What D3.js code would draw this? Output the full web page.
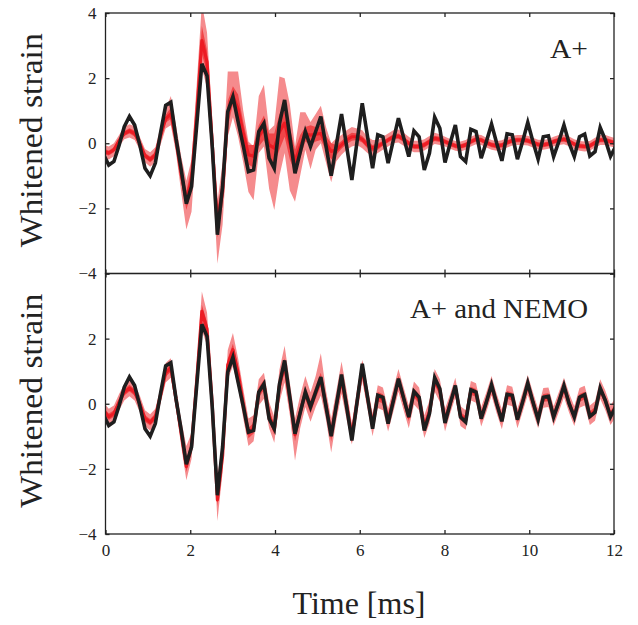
<!DOCTYPE html>
<html><head><meta charset="utf-8">
<script src="https://cdn.jsdelivr.net/npm/d3@7"></script>
<style>body{margin:0;background:#fff}svg{display:block}</style>
</head><body><div id="chart"></div>
<script>
// sample times (ms)
const times = [-0.045,0.077,0.199,0.321,0.443,0.565,0.687,0.809,0.932,1.054,1.176,1.298,1.420,1.542,1.664,1.786,1.908,2.030,2.152,2.274,2.396,2.518,2.641,2.763,2.885,3.007,3.129,3.251,3.373,3.495,3.617,3.739,3.861,3.983,4.105,4.227,4.350,4.472,4.594,4.716,4.838,4.960,5.082,5.204,5.326,5.448,5.570,5.692,5.814,5.936,6.059,6.181,6.303,6.425,6.547,6.669,6.791,6.913,7.035,7.157,7.279,7.401,7.523,7.645,7.768,7.890,8.012,8.134,8.256,8.378,8.500,8.622,8.744,8.866,8.988,9.110,9.232,9.354,9.476,9.599,9.721,9.843,9.965,10.087,10.209,10.331,10.453,10.575,10.697,10.819,10.941,11.063,11.186,11.308,11.430,11.552,11.674,11.796,11.918,12.040];

// injected whitened signal (black)
const injected = [-0.35,-0.67,-0.56,-0.06,0.51,0.82,0.56,-0.05,-0.77,-1.00,-0.61,0.31,1.16,1.26,0.15,-0.80,-1.86,-1.33,0.55,2.44,2.07,-0.08,-2.81,-1.33,0.97,1.43,0.66,-0.08,-0.87,-0.82,0.36,0.61,-0.46,-0.77,0.60,1.33,0.20,-0.92,-0.28,0.36,-0.10,0.36,0.82,-0.09,-1.00,-0.05,0.90,-0.11,-1.13,0.05,1.23,0.23,-0.77,0.26,0.20,-0.61,0.08,0.77,0.18,-0.41,0.38,0.20,-0.82,-0.30,0.80,0.46,-0.59,0.00,0.56,-0.41,-0.56,0.43,0.36,-0.46,0.05,0.59,0.00,-0.54,0.29,0.26,-0.49,0.05,0.64,0.05,-0.49,0.20,0.23,-0.41,0.05,0.56,0.00,-0.41,0.20,0.28,-0.39,-0.26,0.48,0.10,-0.40,-0.10];

// A+ reconstruction
const aMedian = [-0.25,-0.30,-0.20,0.08,0.30,0.38,0.30,0.00,-0.38,-0.50,-0.36,0.22,0.75,0.90,0.10,-0.95,-1.75,-1.10,0.90,3.15,2.50,0.00,-2.40,-1.50,0.90,1.45,1.05,0.30,-0.35,-0.40,0.20,0.45,-0.05,-0.15,0.35,0.62,0.00,-0.55,-0.10,0.28,0.25,0.28,0.30,0.00,-0.25,-0.20,-0.05,0.10,0.20,0.20,0.12,-0.05,-0.15,-0.10,0.00,0.10,0.20,0.22,0.12,0.00,-0.10,-0.10,-0.05,0.05,0.15,0.12,0.05,-0.02,-0.08,-0.10,-0.05,0.05,0.12,0.10,0.02,-0.05,-0.08,-0.06,0.02,0.08,0.10,0.10,0.08,0.02,-0.04,-0.05,-0.02,0.05,0.10,0.12,0.06,-0.03,-0.08,-0.10,-0.08,0.02,0.10,0.10,0.05,0.00];
const aLo90 = [-0.45,-0.50,-0.40,-0.10,0.12,0.18,0.10,-0.20,-0.58,-0.72,-0.58,-0.05,0.45,0.55,-0.30,-1.50,-2.65,-2.10,0.20,2.30,1.70,-0.80,-3.70,-2.50,0.20,0.80,0.20,-0.60,-1.50,-1.75,-0.30,-0.10,-1.40,-2.05,-1.00,-0.30,-1.45,-1.80,-1.00,-0.20,-0.80,-0.20,0.00,-0.60,-1.20,-0.55,-0.35,-0.20,-0.10,-0.05,-0.15,-0.30,-0.40,-0.30,-0.20,-0.10,0.00,0.02,-0.08,-0.20,-0.28,-0.28,-0.22,-0.12,-0.02,-0.05,-0.10,-0.17,-0.23,-0.25,-0.20,-0.10,-0.03,-0.05,-0.13,-0.20,-0.23,-0.21,-0.13,-0.07,-0.05,-0.05,-0.07,-0.13,-0.19,-0.20,-0.17,-0.10,-0.05,-0.03,-0.09,-0.18,-0.23,-0.25,-0.23,-0.13,-0.05,-0.05,-0.10,-0.15];
const aHi90 = [-0.05,-0.10,0.00,0.25,0.50,0.58,0.52,0.20,-0.18,-0.28,-0.12,0.50,1.05,1.45,0.55,-0.40,-1.15,-0.50,1.80,4.30,3.40,0.80,-1.80,-0.60,2.20,2.20,2.20,1.00,0.05,-0.10,1.45,1.80,0.40,0.55,2.05,2.00,1.20,-0.10,0.95,0.95,0.65,0.90,1.15,0.50,0.00,0.15,0.25,0.40,0.50,0.45,0.40,0.20,0.10,0.10,0.20,0.30,0.40,0.42,0.32,0.20,0.08,0.08,0.12,0.22,0.32,0.28,0.20,0.13,0.07,0.05,0.10,0.20,0.27,0.25,0.17,0.10,0.07,0.09,0.17,0.23,0.25,0.25,0.23,0.17,0.11,0.10,0.13,0.20,0.25,0.27,0.21,0.12,0.07,0.05,0.07,0.17,0.25,0.25,0.20,0.15];
const aLo50 = [-0.33,-0.38,-0.28,0.00,0.22,0.30,0.21,-0.08,-0.46,-0.59,-0.45,0.11,0.63,0.75,-0.07,-1.17,-2.05,-1.45,0.55,2.75,2.15,-0.32,-2.90,-1.90,0.50,1.20,0.65,-0.05,-0.65,-0.75,-0.10,0.10,-0.40,-0.65,-0.20,0.20,-0.50,-0.90,-0.45,0.05,-0.05,0.05,0.10,-0.22,-0.50,-0.35,-0.17,-0.02,0.08,0.10,0.02,-0.15,-0.25,-0.20,-0.08,0.02,0.12,0.14,0.04,-0.08,-0.18,-0.18,-0.13,-0.03,0.07,0.04,-0.02,-0.09,-0.15,-0.17,-0.12,-0.02,0.05,0.03,-0.05,-0.12,-0.15,-0.13,-0.05,0.01,0.03,0.03,0.01,-0.05,-0.11,-0.12,-0.09,-0.02,0.03,0.05,-0.01,-0.10,-0.15,-0.17,-0.15,-0.05,0.03,0.03,-0.02,-0.07];
const aHi50 = [-0.17,-0.22,-0.12,0.16,0.38,0.46,0.39,0.08,-0.30,-0.41,-0.27,0.33,0.87,1.10,0.27,-0.73,-1.45,-0.75,1.25,3.60,2.85,0.32,-2.00,-1.10,1.30,1.75,1.50,0.65,-0.05,-0.05,0.55,0.85,0.30,0.30,0.90,1.05,0.50,-0.20,0.25,0.50,0.55,0.50,0.55,0.22,0.00,-0.05,0.07,0.22,0.32,0.30,0.22,0.05,-0.05,0.00,0.08,0.18,0.28,0.30,0.20,0.08,-0.02,-0.02,0.03,0.13,0.23,0.20,0.12,0.05,-0.01,-0.03,0.02,0.12,0.19,0.17,0.09,0.02,-0.01,0.01,0.09,0.15,0.17,0.17,0.15,0.09,0.03,0.02,0.05,0.12,0.17,0.19,0.13,0.04,-0.01,-0.03,-0.01,0.09,0.17,0.17,0.12,0.07];

// A+ and NEMO reconstruction
const nMedian = [-0.22,-0.40,-0.30,0.05,0.35,0.48,0.35,0.00,-0.45,-0.57,-0.40,0.25,0.95,1.10,0.15,-0.90,-1.93,-1.30,0.70,2.84,2.30,0.00,-2.95,-1.60,1.20,1.66,0.95,0.00,-0.90,-0.75,0.35,0.58,-0.35,-0.80,0.55,1.20,0.15,-0.95,-0.25,0.33,-0.10,0.35,0.75,-0.05,-0.95,-0.05,0.75,-0.05,-1.00,0.05,1.10,0.20,-0.65,0.22,0.15,-0.50,0.10,0.72,0.15,-0.40,0.33,0.15,-0.70,-0.25,0.72,0.40,-0.50,0.00,0.50,-0.38,-0.50,0.40,0.33,-0.40,0.05,0.55,0.00,-0.48,0.27,0.22,-0.45,0.05,0.58,0.05,-0.45,0.18,0.20,-0.38,0.05,0.50,0.02,-0.38,0.18,0.25,-0.35,-0.22,0.45,0.10,-0.35,-0.10];
const nLo90 = [-0.47,-0.65,-0.55,-0.20,0.10,0.23,0.10,-0.25,-0.70,-0.82,-0.65,0.00,0.65,0.80,-0.15,-1.30,-2.35,-1.70,0.20,2.25,1.80,-0.50,-3.60,-2.10,0.75,1.15,0.50,-0.45,-1.30,-1.15,-0.05,0.15,-0.75,-1.20,0.05,0.65,-0.35,-1.75,-0.75,-0.10,-0.55,-0.10,0.25,-0.50,-1.50,-0.50,0.30,-0.50,-1.25,-0.35,0.70,-0.15,-1.00,-0.13,-0.20,-0.85,-0.25,0.37,-0.20,-0.75,-0.02,-0.20,-1.05,-0.60,0.37,0.05,-0.85,-0.30,0.20,-0.68,-0.80,0.10,0.03,-0.70,-0.25,0.25,-0.30,-0.78,-0.03,-0.08,-0.75,-0.25,0.28,-0.25,-0.75,-0.12,-0.10,-0.68,-0.25,0.20,-0.28,-0.68,-0.12,-0.05,-0.65,-0.52,0.15,-0.20,-0.65,-0.40];
const nHi90 = [0.03,-0.15,-0.05,0.30,0.60,0.73,0.60,0.25,-0.20,-0.32,-0.15,0.50,1.25,1.40,0.45,-0.50,-1.30,-0.90,1.20,3.45,2.80,0.50,-2.25,-1.10,1.65,2.17,1.40,0.45,-0.45,-0.35,0.75,0.95,0.05,-0.40,1.05,1.78,0.65,-0.45,0.25,0.85,0.35,0.85,1.55,0.40,-0.45,0.40,1.30,0.40,-0.60,0.45,1.35,0.55,-0.30,0.57,0.50,-0.15,0.45,1.07,0.50,-0.05,0.68,0.50,-0.35,0.10,1.07,0.75,-0.15,0.30,0.80,-0.08,-0.20,0.70,0.63,-0.10,0.35,0.85,0.30,-0.18,0.57,0.52,-0.15,0.35,0.88,0.35,-0.15,0.48,0.50,-0.08,0.35,0.80,0.32,-0.08,0.48,0.55,-0.05,0.08,0.75,0.40,-0.05,0.20];
const nLo50 = [-0.32,-0.50,-0.40,-0.05,0.25,0.38,0.25,-0.10,-0.55,-0.67,-0.50,0.15,0.83,0.98,0.03,-1.06,-2.09,-1.46,0.50,2.64,2.10,-0.20,-3.15,-1.80,1.02,1.48,0.77,-0.18,-1.06,-0.91,0.19,0.42,-0.51,-0.96,0.35,1.00,-0.05,-1.15,-0.45,0.13,-0.30,0.15,0.55,-0.25,-1.15,-0.25,0.55,-0.25,-1.20,-0.15,0.90,0.06,-0.79,0.08,0.01,-0.64,-0.04,0.58,0.01,-0.54,0.19,0.01,-0.84,-0.39,0.58,0.26,-0.64,-0.12,0.38,-0.50,-0.62,0.28,0.21,-0.52,-0.07,0.43,-0.12,-0.60,0.15,0.10,-0.57,-0.07,0.46,-0.07,-0.57,0.06,0.08,-0.50,-0.07,0.38,-0.10,-0.50,0.06,0.13,-0.47,-0.34,0.33,-0.02,-0.47,-0.22];
const nHi50 = [-0.12,-0.30,-0.20,0.15,0.45,0.58,0.45,0.10,-0.35,-0.47,-0.30,0.35,1.07,1.22,0.27,-0.74,-1.77,-1.14,0.90,3.04,2.50,0.20,-2.75,-1.40,1.38,1.84,1.13,0.18,-0.74,-0.59,0.51,0.74,-0.19,-0.64,0.75,1.40,0.35,-0.75,-0.05,0.53,0.10,0.55,0.95,0.15,-0.75,0.15,0.95,0.15,-0.80,0.25,1.30,0.34,-0.51,0.36,0.29,-0.36,0.24,0.86,0.29,-0.26,0.47,0.29,-0.56,-0.11,0.86,0.54,-0.36,0.12,0.62,-0.26,-0.38,0.52,0.45,-0.28,0.17,0.67,0.12,-0.36,0.39,0.34,-0.33,0.17,0.70,0.17,-0.33,0.30,0.32,-0.26,0.17,0.62,0.14,-0.26,0.30,0.37,-0.23,-0.10,0.57,0.22,-0.23,0.02];

const xTicks = [0,2,4,6,8,10,12];
const yTicks = [-4,-2,0,2,4];
const panels = [
  {label:"A+", median:aMedian, lo90:aLo90, hi90:aHi90, lo50:aLo50, hi50:aHi50, yLabels:[-4,-2,0,2,4]},
  {label:"A+ and NEMO", median:nMedian, lo90:nLo90, hi90:nHi90, lo50:nLo50, hi50:nHi50, yLabels:[-4,-2,0,2]}
];

const W = 638, H = 625;
const L = 105.5, R = 614;
const panelBox = [[13, 273.5],[273.5, 534]];
const svg = d3.select("#chart").append("svg").attr("width", W).attr("height", H);
const x = d3.scaleLinear().domain([0,12]).range([L,R]);
const serif = "'Liberation Serif', 'DejaVu Serif', serif";
const ink = "#222";

panels.forEach((p, i) => {
  const [t, b] = panelBox[i];
  const y = d3.scaleLinear().domain([-4,4]).range([b,t]);
  const g = svg.append("g");
  const clipId = "clip" + i;
  svg.append("clipPath").attr("id", clipId).append("rect")
    .attr("x", L).attr("y", t).attr("width", R-L).attr("height", b-t);
  const body = g.append("g").attr("clip-path", `url(#${clipId})`);
  const idx = d3.range(times.length);
  const band = (lo, hi) => d3.area().x(k => x(times[k])).y0(k => y(lo[k])).y1(k => y(hi[k]));
  const line = arr => d3.line().x(k => x(times[k])).y(k => y(arr[k]));
  body.append("path").attr("d", band(p.lo90, p.hi90)(idx)).attr("fill", "#f58b8d");
  body.append("path").attr("d", band(p.lo50, p.hi50)(idx)).attr("fill", "#f04548");
  body.append("path").attr("d", line(p.median)(idx)).attr("fill","none")
    .attr("stroke", "#ec1c24").attr("stroke-width", 3.2).attr("stroke-linejoin","round");
  body.append("path").attr("d", line(injected)(idx)).attr("fill","none")
    .attr("stroke", "#1e1e1e").attr("stroke-width", 3.6).attr("stroke-linejoin","miter").attr("stroke-miterlimit", 4);

  // frame
  g.append("rect").attr("x", L).attr("y", t).attr("width", R-L).attr("height", b-t)
    .attr("fill","none").attr("stroke", ink).attr("stroke-width", 1.3);

  // axes with inward ticks
  const fmt = d3.format("d");
  const left = g.append("g").attr("transform", `translate(${L},0)`)
    .call(d3.axisLeft(y).tickValues(yTicks).tickSize(-4).tickPadding(9)
      .tickFormat(v => p.yLabels.includes(v) ? fmt(v).replace("-", "\u2212") : ""));
  const right = g.append("g").attr("transform", `translate(${R},0)`)
    .call(d3.axisRight(y).tickValues(yTicks).tickSize(-4).tickFormat(""));
  const top = g.append("g").attr("transform", `translate(0,${t})`)
    .call(d3.axisTop(x).tickValues(xTicks).tickSize(-4).tickFormat(""));
  const bottom = g.append("g").attr("transform", `translate(0,${b})`)
    .call(d3.axisBottom(x).tickValues(xTicks).tickSize(-4).tickPadding(10)
      .tickFormat(i === 1 ? fmt : ""));
  [left, right, top, bottom].forEach(a => {
    a.select(".domain").remove();
    a.selectAll(".tick line").attr("stroke", ink).attr("stroke-width", 1.3);
    a.selectAll("text").attr("font-family", serif).attr("font-size", 17).attr("fill", ink);
  });

  // panel label
  const lab = g.append("text").attr("x", i === 0 ? 550 : 410).attr("y", i === 0 ? 58 : 318)
    .attr("font-family", serif).attr("font-size", 27).attr("fill", ink).text(p.label)
    .attr("textLength", i === 0 ? 38 : 178).attr("lengthAdjust", "spacingAndGlyphs");

  // y title
  g.append("text").attr("transform", `translate(42,${(t+b)/2 - 3}) rotate(-90)`)
    .attr("text-anchor","middle").attr("font-family", serif).attr("font-size", 32)
    .attr("fill", ink).attr("textLength", 214).attr("lengthAdjust", "spacingAndGlyphs")
    .text("Whitened strain");
});

svg.append("text").attr("x", 359).attr("y", 614).attr("text-anchor","middle")
  .attr("font-family", serif).attr("font-size", 32).attr("fill", ink)
  .attr("textLength", 133).attr("lengthAdjust", "spacingAndGlyphs").text("Time [ms]");
</script>
</body></html>
